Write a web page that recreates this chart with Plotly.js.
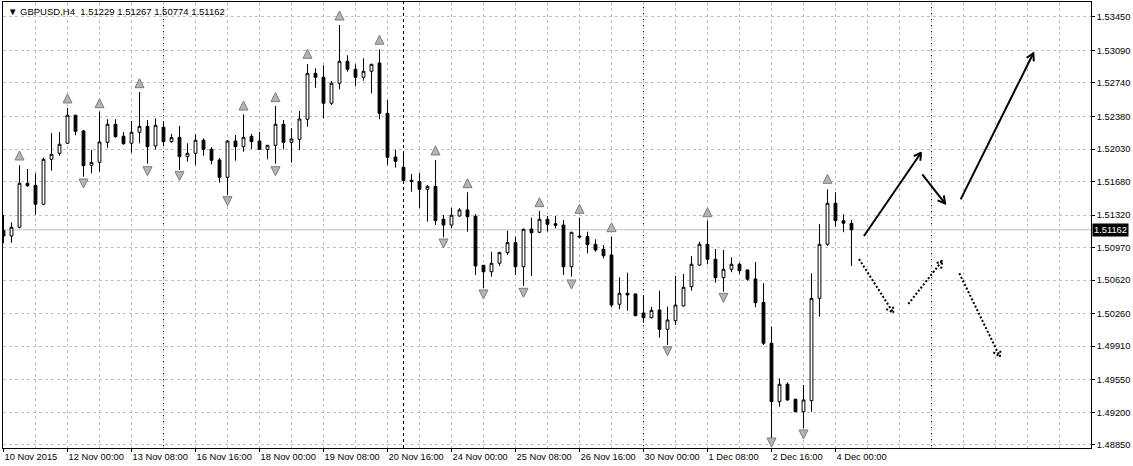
<!DOCTYPE html>
<html><head><meta charset="utf-8">
<script src="https://cdn.plot.ly/plotly-3.0.1.min.js"></script>
<style>html,body{margin:0;padding:0;background:#fff;}#chart{width:1133px;height:466px;}</style>
</head><body><div id="chart"></div>
<script>
const symbolName = "GBPUSD";
const timeframe = "H4";

const opens = [1.51152,1.51095,1.51189,1.51662,1.51640,1.51436,1.51920,1.51984,1.52092,1.52393,
1.52224,1.51855,1.51887,1.52102,1.52296,1.52167,1.52092,1.52210,1.52274,1.52063,
1.52264,1.52109,1.52156,1.51948,1.51984,1.52124,1.52027,1.51912,1.51726,1.52116,
1.52055,1.52167,1.52116,1.52027,1.52070,1.52296,1.52102,1.52135,1.52350,1.52844,
1.52801,1.52522,1.52737,1.52973,1.52887,1.52801,1.52866,1.52955,1.52414,1.51944,
1.51834,1.51694,1.51681,1.51597,1.51629,1.51275,1.51213,1.51310,1.51375,1.51307,
1.50780,1.50711,1.50802,1.50916,1.51023,1.50765,1.51170,1.51135,1.51275,1.51227,
1.51213,1.50765,1.51095,1.51088,1.51006,1.50952,1.50891,1.50361,1.50479,1.50472,
1.50267,1.50217,1.50300,1.50092,1.50184,1.50343,1.50550,1.50783,1.51006,1.50845,
1.50647,1.50737,1.50791,1.50730,1.50633,1.50382,1.49942,1.49314,1.49501,1.49340,
1.49206,1.49325,1.50425,1.51006,1.51447,1.51260,1.51229];

const highs = [1.51321,1.51242,1.51855,1.51815,1.51769,1.51937,1.52202,1.52213,1.52471,1.52398,
1.52235,1.52020,1.52431,1.52350,1.52350,1.52213,1.52331,1.52643,1.52342,1.52360,
1.52321,1.52192,1.52278,1.52092,1.52192,1.52145,1.52049,1.51934,1.52124,1.52181,
1.52403,1.52192,1.52213,1.52070,1.52493,1.52342,1.52253,1.52439,1.52944,1.52898,
1.52930,1.52761,1.53363,1.53038,1.52941,1.53005,1.52945,1.53102,1.52557,1.52020,
1.51991,1.51762,1.51772,1.51643,1.51912,1.51321,1.51399,1.51393,1.51565,1.51332,
1.50783,1.50926,1.50926,1.51152,1.51088,1.51176,1.51292,1.51364,1.51310,1.51310,
1.51267,1.51138,1.51292,1.51141,1.51060,1.50998,1.51088,1.50651,1.50700,1.50477,
1.50450,1.50335,1.50507,1.50335,1.50665,1.50687,1.50880,1.51034,1.51260,1.50955,
1.50945,1.50866,1.50808,1.50735,1.50816,1.50587,1.50120,1.49565,1.49522,1.49346,
1.49493,1.50694,1.51224,1.51597,1.51565,1.51328,1.51267];

const lows = [1.51017,1.51023,1.51178,1.51625,1.51324,1.51425,1.51797,1.51958,1.52087,1.52178,
1.51733,1.51769,1.51786,1.52044,1.52152,1.52077,1.51991,1.52092,1.51872,1.52027,
1.52073,1.52098,1.51805,1.51894,1.51858,1.51958,1.51866,1.51668,1.51536,1.51905,
1.52001,1.52030,1.52020,1.51920,1.51872,1.52027,1.51885,1.52020,1.52270,1.52689,
1.52360,1.52503,1.52672,1.52861,1.52708,1.52765,1.52629,1.52350,1.51858,1.51831,
1.51672,1.51571,1.51393,1.51249,1.51213,1.51081,1.51178,1.51303,1.51141,1.50676,
1.50533,1.50658,1.50773,1.50891,1.50676,1.50558,1.50665,1.51125,1.51141,1.51178,
1.50676,1.50658,1.51070,1.50909,1.50926,1.50855,1.50329,1.50307,1.50292,1.50235,
1.50163,1.50210,1.50002,1.49923,1.50138,1.50335,1.50507,1.50776,1.50791,1.50593,
1.50496,1.50705,1.50683,1.50615,1.50329,1.49923,1.48920,1.49260,1.49325,1.49203,
1.49028,1.49206,1.50228,1.50988,1.51195,1.51135,1.50774];

const closes = [1.51095,1.51189,1.51662,1.51636,1.51436,1.51920,1.51973,1.52081,1.52393,1.52221,
1.51851,1.51887,1.52106,1.52296,1.52163,1.52087,1.52210,1.52274,1.52055,1.52285,
1.52109,1.52152,1.51948,1.51984,1.52124,1.52027,1.51909,1.51726,1.52116,1.52055,
1.52156,1.52109,1.52027,1.52070,1.52296,1.52102,1.52138,1.52353,1.52844,1.52801,
1.52522,1.52737,1.52973,1.52887,1.52801,1.52866,1.52941,1.52414,1.51941,1.51898,
1.51692,1.51681,1.51597,1.51629,1.51260,1.51213,1.51318,1.51375,1.51303,1.50773,
1.50711,1.50802,1.50916,1.51023,1.50765,1.51167,1.51130,1.51275,1.51221,1.51210,
1.50765,1.51135,1.51084,1.51002,1.50945,1.50883,1.50353,1.50479,1.50461,1.50238,
1.50217,1.50296,1.50092,1.50192,1.50353,1.50544,1.50791,1.51006,1.50845,1.50647,
1.50737,1.50791,1.50722,1.50630,1.50378,1.49942,1.49314,1.49501,1.49332,1.49206,
1.49332,1.50425,1.51006,1.51447,1.51260,1.51232,1.51162];

// time-axis labels (bar index where each label starts)
const tickBars = [0,8,16,24,32,40,48,56,64,72,80,88,96,104];
const tickLabels = ["10 Nov 2015","12 Nov 00:00","13 Nov 08:00","16 Nov 16:00","18 Nov 00:00",
"19 Nov 08:00","20 Nov 16:00","24 Nov 00:00","25 Nov 08:00","26 Nov 16:00","30 Nov 00:00",
"1 Dec 08:00","2 Dec 16:00","4 Dec 00:00"];

// price-axis labels
const priceTicks = [1.53450,1.53090,1.52740,1.52380,1.52030,1.51680,1.51320,
1.50970,1.50620,1.50260,1.49910,1.49550,1.49200,1.48850];

// Bill Williams fractals (arrow tip levels)
const fractalUpBars = [2,8,12,17,30,34,38,42,47,54,58,67,72,76,88,103];
const fractalUpValues = [1.52009,1.52622,1.52571,1.52786,1.52546,1.52636,1.53102,1.53514,
1.53253,1.52063,1.51711,1.51507,1.51436,1.51238,1.51399,1.51758];
const fractalDownBars = [10,18,22,28,34,55,60,65,71,83,90,96,100];
const fractalDownValues = [1.51611,1.51743,1.51690,1.51421,1.51743,1.50966,1.50418,1.50436,
1.50525,1.49808,1.50382,1.48827,1.48913];

// weekly period separators (bar index)
const weekSeparators = [20,50,80,116];

// scenario arrows drawn on the chart
const arrowX0 = [107.56,114.85,119.65,106.94,113.10,119.48];
const arrowY0 = [1.51095,1.51758,1.51489,1.50848,1.50364,1.50694];
const arrowX1 = [114.69,117.69,128.73,111.23,117.35,124.56];
const arrowY1 = [1.51990,1.51446,1.53059,1.50270,1.50829,1.49797];
const arrowDotted = [false,false,false,true,true,true];

const bars = opens.map((_, i) => i);
const last = opens.length - 1;
const fmt = v => v.toFixed(5);

const W = 1133, H = 466;
const M = {l: 3, r: 42, t: 2, b: 18};
const xRange = [-0.0625, 135.94];
const yRange = [1.48816, 1.536105];
const pxPerBar = (W - M.l - M.r) / (xRange[1] - xRange[0]);
const pxPerPrice = (H - M.t - M.b) / (yRange[1] - yRange[0]);

const traces = [];
traces.push({
  type: 'candlestick', x: bars, open: opens, high: highs, low: lows, close: closes,
  increasing: {line: {color: '#000', width: 1}, fillcolor: '#ffffff'},
  decreasing: {line: {color: '#000', width: 1}, fillcolor: '#000000'},
  whiskerwidth: 0, hoverinfo: 'skip', showlegend: false
});
traces.push({
  type: 'scatter', mode: 'markers', x: fractalUpBars, y: fractalUpValues,
  marker: {symbol: 'arrow-up', size: 9, color: '#b4b4b4', line: {color: '#7c7c7c', width: 1}},
  hoverinfo: 'skip', showlegend: false
});
traces.push({
  type: 'scatter', mode: 'markers', x: fractalDownBars, y: fractalDownValues,
  marker: {symbol: 'arrow-down', size: 9, color: '#b4b4b4', line: {color: '#7c7c7c', width: 1}},
  hoverinfo: 'skip', showlegend: false
});
for (let i = 0; i < arrowX0.length; i++) {
  const dash = arrowDotted[i] ? '2px,2px' : 'solid';
  traces.push({
    type: 'scatter', mode: 'lines',
    x: [arrowX0[i], arrowX1[i]], y: [arrowY0[i], arrowY1[i]],
    line: {color: '#000', width: 2, dash: dash},
    hoverinfo: 'skip', showlegend: false
  });
  // chevron head: direction measured in screen pixels
  const dxp = (arrowX1[i] - arrowX0[i]) * pxPerBar;
  const dyp = (arrowY1[i] - arrowY0[i]) * pxPerPrice;
  const len = Math.hypot(dxp, dyp);
  const ux = dxp / len, uy = dyp / len;
  const L = 8, a = Math.PI / 6;
  const leg = s => {
    const c = Math.cos(s * a), sn = Math.sin(s * a);
    const bx = -(ux * c - uy * sn) * L, by = -(ux * sn + uy * c) * L;
    return [arrowX1[i] + bx / pxPerBar, arrowY1[i] + by / pxPerPrice];
  };
  const p1 = leg(1), p2 = leg(-1);
  traces.push({
    type: 'scatter', mode: 'lines',
    x: [p1[0], arrowX1[i], p2[0]], y: [p1[1], arrowY1[i], p2[1]],
    line: {color: '#000', width: 2, dash: dash},
    hoverinfo: 'skip', showlegend: false
  });
}

const shapes = weekSeparators.map(b => ({
  type: 'line', xref: 'x', yref: 'paper', x0: b, x1: b, y0: 0, y1: 1,
  line: {color: '#000', width: 1, dash: 'dot'}, layer: 'between'
}));
shapes.push({
  type: 'line', xref: 'paper', yref: 'y', x0: 0, x1: 1, y0: closes[last], y1: closes[last],
  line: {color: '#c0c0c0', width: 1}, layer: 'between'
});

const FONT = 'Liberation Sans, Arial, sans-serif';
const layout = {
  width: W, height: H,
  margin: {l: M.l, r: M.r, t: M.t, b: M.b, pad: 0},
  paper_bgcolor: '#ffffff', plot_bgcolor: '#ffffff',
  showlegend: false, boxgap: 0.5, hovermode: false,
  font: {family: FONT, size: 9.3, color: '#000'},
  xaxis: {
    type: 'linear', range: xRange, fixedrange: true, automargin: false,
    tickmode: 'array', tickvals: tickBars, ticktext: tickLabels, tickangle: 0,
    ticklabelposition: 'outside right', ticks: 'outside', ticklen: 3, tickcolor: '#000',
    showgrid: true, gridcolor: '#c0c0c0', griddash: 'dot', gridwidth: 1,
    minor: {tick0: 0, dtick: 4, showgrid: true, gridcolor: '#c0c0c0', griddash: 'dot', gridwidth: 1, ticks: ''},
    showline: true, linecolor: '#000', linewidth: 1, mirror: true, zeroline: false,
    rangeslider: {visible: false}
  },
  yaxis: {
    side: 'right', range: yRange, fixedrange: true, automargin: false,
    tickmode: 'array', tickvals: priceTicks, ticktext: priceTicks.map(fmt),
    ticks: 'outside', ticklen: 3, tickcolor: '#000',
    showgrid: true, gridcolor: '#c0c0c0', griddash: 'dot', gridwidth: 1,
    showline: true, linecolor: '#000', linewidth: 1, mirror: true, zeroline: false
  },
  shapes: shapes,
  annotations: [
    {xref: 'paper', yref: 'paper', x: 0, y: 1, xanchor: 'left', yanchor: 'top', xshift: 3, yshift: -2,
     showarrow: false, align: 'left', font: {family: FONT, size: 9.5, color: '#000'},
     text: '\u25BC ' + symbolName + ',' + timeframe + '\u00a0 ' + [opens[last], highs[last], lows[last], closes[last]].map(fmt).join(' ')},
    {xref: 'paper', yref: 'y', x: 1, y: closes[last], xanchor: 'left', yanchor: 'middle', xshift: 1,
     showarrow: false, bgcolor: '#000', borderpad: 1, font: {family: FONT, size: 9.3, color: '#fff'},
     text: fmt(closes[last])}
  ]
};

Plotly.newPlot('chart', traces, layout, {staticPlot: true, displayModeBar: false});
</script>
</body></html>
